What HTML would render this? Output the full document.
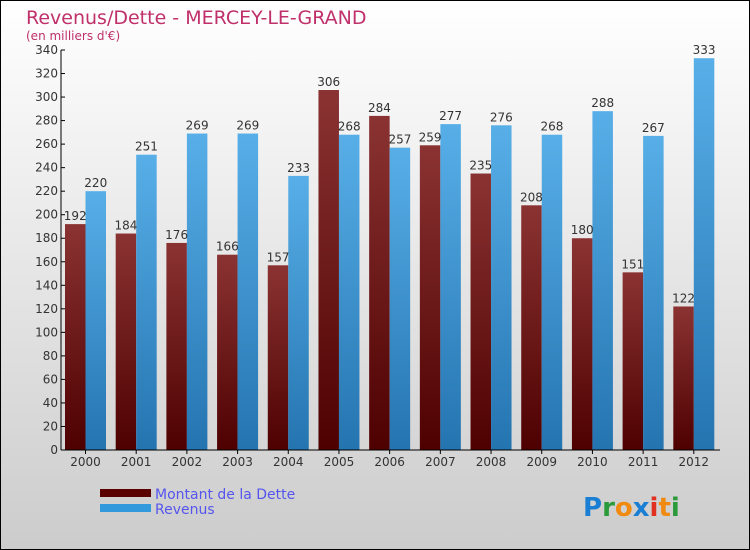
<!DOCTYPE html>
<html><head><meta charset="utf-8"><style>
body{margin:0}
svg{display:block;font-family:"DejaVu Sans","Liberation Sans",sans-serif}
</style></head><body>
<svg width="750" height="550" viewBox="0 0 750 550">
<defs>
<linearGradient id="bg" x1="0" y1="0" x2="0" y2="1"><stop offset="0" stop-color="#ffffff"/><stop offset="1" stop-color="#cccccc"/></linearGradient>
<linearGradient id="gd" x1="0" y1="0" x2="0" y2="1"><stop offset="0" stop-color="#8b3333"/><stop offset="1" stop-color="#4e0000"/></linearGradient>
<linearGradient id="gr" x1="0" y1="0" x2="0" y2="1"><stop offset="0" stop-color="#58afe8"/><stop offset="1" stop-color="#2474b0"/></linearGradient>
</defs>
<rect x="0.5" y="0.5" width="749" height="549" fill="url(#bg)" stroke="#000"/>
<text x="26" y="24" font-size="19" fill="#c0306a">Revenus/Dette - MERCEY-LE-GRAND</text>
<text x="26" y="40" font-size="12" fill="#c0306a">(en milliers d'€)</text>
<g id="plot"></g>
<g>
<rect x="100" y="489" width="51" height="8" fill="#5a0000"/>
<text x="155" y="499" font-size="14" fill="#5555ee">Montant de la Dette</text>
<rect x="100" y="504" width="51" height="8" fill="#3399dd"/>
<text x="155" y="514" font-size="14" fill="#5555ee">Revenus</text>
</g>
<g font-size="26" font-weight="bold">
<text x="583" y="516"><tspan fill="#1a7fd4">P</tspan><tspan fill="#2a9a3a">r</tspan><tspan fill="#f08a10">o</tspan><tspan fill="#1a7fd4">x</tspan><tspan fill="#e03020">i</tspan><tspan fill="#f08a10">t</tspan><tspan fill="#2a9a3a">i</tspan></text>
</g>
</svg>
<script>
const years=["2000","2001","2002","2003","2004","2005","2006","2007","2008","2009","2010","2011","2012"];
const debt=[192,184,176,166,157,306,284,259,235,208,180,151,122];
const revenue=[220,251,269,269,233,268,257,277,276,268,288,267,333];
const ticks=[0,20,40,60,80,100,120,140,160,180,200,220,240,260,280,300,320,340];
const NS="http://www.w3.org/2000/svg";
const g=document.getElementById('plot');
const x0=61,x1=720,y0=450,yTop=50,maxV=340;
const band=(x1-x0)/years.length;
const y=v=>y0-(v/maxV)*(y0-yTop);
function mk(t,a,p){const e=document.createElementNS(NS,t);for(const k in a)e.setAttribute(k,a[k]);(p||g).appendChild(e);return e;}
ticks.forEach(t=>{
  mk('line',{x1:x0,x2:x0+4,y1:y(t),y2:y(t),stroke:'#000'});
  const tx=mk('text',{x:x0-3,y:y(t)+4,'font-size':12,'text-anchor':'end',fill:'#333'});
  tx.textContent=t;
  
  
});
years.forEach((yr,i)=>{
  const gx=x0+4+i*band, bw=20.5;
  const b1=mk('rect',{x:gx,y:y(debt[i]),width:bw,height:y0-y(debt[i]),fill:'url(#gd)'});
  
  
  const b2=mk('rect',{x:gx+bw,y:y(revenue[i]),width:bw,height:y0-y(revenue[i]),fill:'url(#gr)'});
  
  
  const l1=mk('text',{x:gx+bw/2,y:y(debt[i])-4,'font-size':12,'text-anchor':'middle',fill:'#333'});
  l1.textContent=debt[i];
  
  
  const l2=mk('text',{x:gx+bw*1.5,y:y(revenue[i])-4,'font-size':12,'text-anchor':'middle',fill:'#333'});
  l2.textContent=revenue[i];
  
  
  const cx=gx+bw;
  mk('line',{x1:cx,x2:cx,y1:y0,y2:y0+4,stroke:'#000'});
  const xl=mk('text',{x:cx,y:y0+16,'font-size':12,'text-anchor':'middle',fill:'#333'});
  xl.textContent=yr;
  
  
});
const ax=mk('line',{x1:x0,x2:x0,y1:yTop,y2:y0,stroke:'#000'});


const bx=mk('line',{x1:x0,x2:x1,y1:y0,y2:y0,stroke:'#000'});


</script>
</body></html>
